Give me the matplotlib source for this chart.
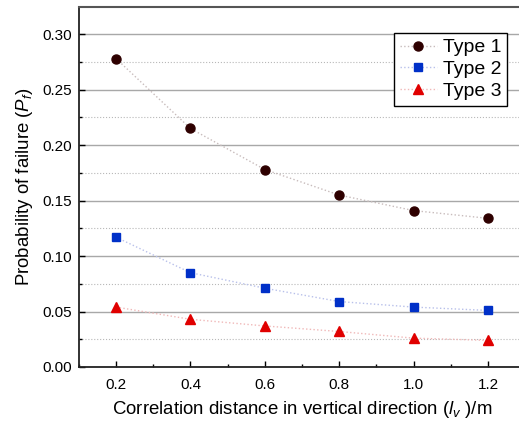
import numpy as np
import matplotlib.pyplot as plt
from matplotlib.ticker import MultipleLocator

plt.rcParams["font.family"] = "Liberation Sans"
plt.rcParams["mathtext.fontset"] = "custom"
plt.rcParams["mathtext.rm"] = "Liberation Sans"
plt.rcParams["mathtext.it"] = "Liberation Sans:italic"

color1 = "#2e0000"
color2 = "#0030c8"
color3 = "#e00000"

distance = [0.2, 0.4, 0.6, 0.8, 1.0, 1.2]
type1 = [0.278, 0.215, 0.178, 0.155, 0.141, 0.134]
type2 = [0.117, 0.085, 0.071, 0.059, 0.054, 0.051]
type3 = [0.054, 0.043, 0.037, 0.032, 0.026, 0.024]

fig = plt.figure(figsize=(5.19, 4.23), dpi=100)
ax = fig.add_axes([0.152, 0.1324, 0.86, 0.851])

ax.plot(distance, type1, ls=":", color="#c8bcbc", lw=1, marker="o", ms=6.5,
        mfc=color1, mec=color1, label="Type 1", zorder=3)
ax.plot(distance, type2, ls=":", color="#b8c0ea", lw=1, marker="s", ms=5.5,
        mfc=color2, mec=color2, label="Type 2", zorder=3)
ax.plot(distance, type3, ls=":", color="#f0b8b8", lw=1, marker="^", ms=7.5,
        mfc=color3, mec=color3, label="Type 3", zorder=3)

ax.set_xlim(0.1, 1.3)
ax.set_ylim(0, 0.3245)
ax.xaxis.set_major_locator(MultipleLocator(0.2))
ax.xaxis.set_minor_locator(MultipleLocator(0.1))
ax.yaxis.set_major_locator(MultipleLocator(0.05))
ax.yaxis.set_minor_locator(MultipleLocator(0.025))
ax.xaxis.set_major_formatter(lambda v, p: f"{v:.1f}")
ax.yaxis.set_major_formatter(lambda v, p: f"{v:.2f}")

ax.grid(which="major", axis="y", color="#a8a8a8", lw=1, ls="-")
ax.grid(which="minor", axis="y", color="#b8b8b8", lw=0.8, ls=":")
ax.set_axisbelow(True)

ax.tick_params(which="both", direction="in", labelsize=11, color="black")
ax.tick_params(which="major", length=4, width=1)
ax.tick_params(which="minor", length=2.5, width=1)
ax.tick_params(axis="x", pad=8)
ax.tick_params(axis="y", pad=5)

for s in ["left", "bottom"]:
    ax.spines[s].set_color("#222222")
    ax.spines[s].set_linewidth(1.3)
ax.spines["top"].set_color("#555555")
ax.spines["top"].set_linewidth(1.5)
ax.spines["right"].set_visible(False)

ax.set_xlabel("Correlation distance in vertical direction ($l_v$ )/m", fontsize=13.4, labelpad=5)
ax.set_ylabel("Probability of failure ($P_f$)", fontsize=13.4, labelpad=5)

leg = ax.legend(loc="upper right", bbox_to_anchor=(0.959, 0.928), fontsize=14,
                frameon=True, fancybox=False, edgecolor="black", framealpha=1,
                borderpad=0.3, labelspacing=0.22, handlelength=1.9,
                handletextpad=0.3, borderaxespad=0)
leg.get_frame().set_linewidth(1)

fig.savefig("out.png", dpi=100)
